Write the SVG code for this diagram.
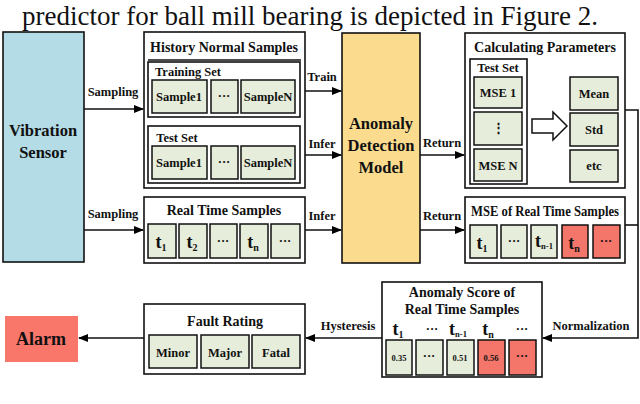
<svg xmlns="http://www.w3.org/2000/svg" width="640" height="404" viewBox="0 0 640 404">
<defs>
<marker id="ah" markerWidth="10" markerHeight="8" refX="9" refY="4" orient="auto" markerUnits="userSpaceOnUse"><path d="M0,0 L10,4 L0,8 Z" fill="#000"/></marker>
<style>
text{font-family:"Liberation Serif",serif;font-weight:bold;fill:#111;text-anchor:middle}
.box{fill:#fff;stroke:#111;stroke-width:1.6}
.inner{fill:none;stroke:#111;stroke-width:1.6}
.c{fill:#e6edda;stroke:#111;stroke-width:1.5}
.r{fill:#f4766a;stroke:#111;stroke-width:1.5}
.t{font-size:14px}
.s{font-size:12.5px}
.l{font-size:12.5px}
.n{font-size:8.5px;fill:#111}
.big{font-size:16.5px}
.con{fill:none;stroke:#111;stroke-width:1.6}
</style>
</defs>
<rect width="640" height="404" fill="#fff"/>
<text x="310" y="25" style="font-weight:normal;font-size:27px;text-anchor:middle">predictor for ball mill bearing is depicted in Figure 2.</text>

<g id="sensor"><rect x="3" y="32" width="81" height="230" fill="#b4dce6" stroke="#111" stroke-width="1.6"/><text class="big" x="43" y="136">Vibration</text><text class="big" x="43" y="158">Sensor</text></g>

<g id="history"><rect class="box" x="144" y="32" width="161" height="156"/><text class="t" x="224" y="52">History Normal Samples</text><line x1="148" y1="60" x2="301" y2="60" stroke="#111" stroke-width="1.6"/>
<rect class="inner" x="148" y="62" width="152" height="55"/><text class="s" x="188" y="76">Training Set</text>
<rect class="c" x="152" y="80" width="55" height="33"/><text class="s" x="179" y="101">Sample1</text>
<rect class="c" x="211" y="80" width="27" height="33"/><text class="s" x="224" y="100">···</text>
<rect class="c" x="241" y="80" width="54" height="33"/><text class="s" x="268" y="101">SampleN</text>
<rect class="inner" x="148" y="126" width="152" height="57"/><text class="s" x="177" y="142">Test Set</text>
<rect class="c" x="152" y="146" width="55" height="33"/><text class="s" x="179" y="167">Sample1</text>
<rect class="c" x="211" y="146" width="27" height="33"/><text class="s" x="224" y="166">···</text>
<rect class="c" x="241" y="146" width="54" height="33"/><text class="s" x="268" y="167">SampleN</text></g>

<g id="realtime"><rect class="box" x="144" y="197" width="161" height="66"/><text class="t" x="224" y="215">Real Time Samples</text>
<rect class="c" x="148" y="224" width="28" height="34"/><text x="161" y="248" style="font-size:18px">t<tspan style="font-size:10px" dy="3">1</tspan></text>
<rect class="c" x="179" y="224" width="28" height="34"/><text x="192" y="248" style="font-size:18px">t<tspan style="font-size:10px" dy="3">2</tspan></text>
<rect class="c" x="210" y="224" width="27" height="34"/><text class="s" x="223" y="245">···</text>
<rect class="c" x="240" y="224" width="28" height="34"/><text x="253" y="248" style="font-size:18px">t<tspan style="font-size:10px" dy="3">n</tspan></text>
<rect class="c" x="271" y="224" width="29" height="34"/><text class="s" x="285" y="245">···</text></g>

<g id="model"><rect x="342" y="33" width="78" height="230" fill="#fbdc8f" stroke="#111" stroke-width="1.6"/><text class="big" x="381" y="129">Anomaly</text><text class="big" x="381" y="151">Detection</text><text class="big" x="381" y="173">Model</text></g>

<g id="calc"><rect class="box" x="465" y="33" width="160" height="155"/><text class="t" x="545" y="52">Calculating Parameters</text>
<rect class="inner" x="470" y="59" width="57" height="125"/><text class="s" x="498" y="72">Test Set</text>
<rect class="c" x="474" y="77" width="48" height="31"/><text class="s" x="498" y="97">MSE 1</text>
<rect class="c" x="474" y="112" width="48" height="33"/><text class="s" x="498" y="132">⋮</text>
<rect class="c" x="474" y="149" width="48" height="32"/><text class="s" x="498" y="170">MSE N</text>
<path d="M532,119 L553,119 L553,112 L567,126 L553,140 L553,133 L532,133 Z" fill="#fff" stroke="#111" stroke-width="1.5"/>
<rect class="c" x="570" y="77" width="48" height="33"/><text class="s" x="594" y="98">Mean</text>
<rect class="c" x="570" y="113" width="48" height="33"/><text class="s" x="594" y="134">Std</text>
<rect class="c" x="570" y="150" width="48" height="32"/><text class="s" x="594" y="170">etc</text></g>

<g id="mse"><rect class="box" x="465" y="197" width="160" height="66"/><text class="t" x="545" y="216" textLength="148" lengthAdjust="spacingAndGlyphs">MSE of Real Time Samples</text>
<rect class="c" x="470" y="225" width="27" height="33"/><text x="482" y="249" style="font-size:18px">t<tspan style="font-size:10px" dy="3">1</tspan></text>
<rect class="c" x="501" y="225" width="26" height="33"/><text class="s" x="514" y="245">···</text>
<rect class="c" x="531" y="225" width="26" height="33"/><text x="544" y="247" style="font-size:18px">t<tspan style="font-size:8.5px" dy="2">n-1</tspan></text>
<rect class="r" x="562" y="225" width="26" height="33"/><text x="574" y="249" style="font-size:18px">t<tspan style="font-size:10px" dy="3">n</tspan></text>
<rect class="r" x="593" y="225" width="27" height="33"/><text class="s" x="606" y="245">···</text></g>

<g id="score"><rect class="box" x="382" y="282" width="160" height="95"/><text class="t" x="462" y="297">Anomaly Score of</text><text class="t" x="462" y="314">Real Time Samples</text>
<text x="398" y="335" style="font-size:18px">t<tspan style="font-size:10px" dy="3">1</tspan></text>
<text class="s" x="432" y="333">···</text>
<text x="458" y="335" style="font-size:18px">t<tspan style="font-size:8.5px" dy="2">n-1</tspan></text>
<text x="488" y="335" style="font-size:18px">t<tspan style="font-size:10px" dy="3">n</tspan></text>
<text class="s" x="522" y="333">···</text>
<rect class="c" x="386" y="340" width="26" height="35"/><text class="n" x="399" y="361">0.35</text>
<rect class="c" x="416" y="340" width="27" height="35"/><text class="s" x="429" y="360">···</text>
<rect class="c" x="447" y="340" width="27" height="35"/><text class="n" x="460" y="361">0.51</text>
<rect class="r" x="478" y="340" width="27" height="35"/><text class="n" x="491" y="361">0.56</text>
<rect class="r" x="509" y="340" width="27" height="35"/><text class="s" x="522" y="360">···</text></g>

<g id="fault"><rect class="box" x="144" y="304" width="161" height="70"/><text class="t" x="225" y="326">Fault Rating</text>
<rect class="c" x="149" y="335" width="48" height="33"/><text class="s" x="173" y="357">Minor</text>
<rect class="c" x="201" y="335" width="48" height="33"/><text class="s" x="225" y="357">Major</text>
<rect class="c" x="252" y="335" width="48" height="33"/><text class="s" x="276" y="357">Fatal</text></g>

<g id="alarm"><rect x="5" y="316" width="73" height="46" fill="#f8766a"/><text x="41" y="345" style="font-size:18px">Alarm</text></g>

<g id="connectors">
<line class="con" x1="84" y1="109" x2="143" y2="109" marker-end="url(#ah)"/><text class="l" x="113" y="96">Sampling</text>
<line class="con" x1="84" y1="230" x2="143" y2="230" marker-end="url(#ah)"/><text class="l" x="113" y="218">Sampling</text>
<line class="con" x1="305" y1="91" x2="341" y2="91" marker-end="url(#ah)"/><text class="l" x="322" y="81">Train</text>
<line class="con" x1="305" y1="155" x2="341" y2="155" marker-end="url(#ah)"/><text class="l" x="322" y="148">Infer</text>
<line class="con" x1="305" y1="230" x2="341" y2="230" marker-end="url(#ah)"/><text class="l" x="322" y="220">Infer</text>
<line class="con" x1="420" y1="155" x2="464" y2="155" marker-end="url(#ah)"/><text class="l" x="442" y="147">Return</text>
<line class="con" x1="420" y1="230" x2="464" y2="230" marker-end="url(#ah)"/><text class="l" x="442" y="220">Return</text>
<polyline class="con" points="625,110 638,110 638,338 543,338" marker-end="url(#ah)"/>
<line class="con" x1="625" y1="225" x2="638" y2="225"/>
<text class="l" x="591" y="330">Normalization</text>
<line class="con" x1="382" y1="338" x2="306" y2="338" marker-end="url(#ah)"/><text class="l" x="348" y="330">Hysteresis</text>
<line class="con" x1="144" y1="338" x2="79" y2="338" marker-end="url(#ah)"/>
</g>
</svg>
